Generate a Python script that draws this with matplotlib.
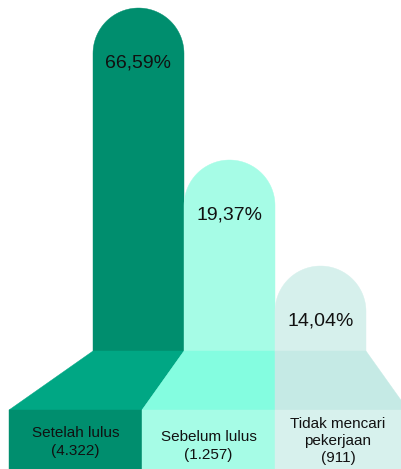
import numpy as np
import matplotlib.pyplot as plt
from matplotlib.patches import Rectangle, Polygon

plt.rcParams['font.family'] = ['Liberation Sans', 'DejaVu Sans']

# data
labels = ['Setelah lulus\n(4.322)', 'Sebelum lulus\n(1.257)', 'Tidak mencari\npekerjaan\n(911)']
percents = ['66,59%', '19,37%', '14,04%']
bar_heights = [343, 191, 85]   # drawn height of each pill (not proportional in the original)

bar_colors = ['#008e6e', '#a6fce6', '#d6f0ec']
trap_colors = ['#00a784', '#84fde0', '#c5eae5']
strip_colors = ['#008e6e', '#a6fce6', '#d7f1ed']

# layout (pixel units, y up)
W, H = 401, 469
bar_x0, bar_w = 93, 91
strip_h, trap_h = 59, 59
base = strip_h + trap_h
bottom_x = [9, 142, 275, 408]
label_y = [27, 23, 28]

fig = plt.figure(figsize=(W / 100, H / 100), dpi=100)
ax = fig.add_axes([0, 0, 1, 1])
ax.set_xlim(0, W)
ax.set_ylim(0, H)
ax.axis('off')

r = bar_w / 2
t = np.linspace(0, np.pi, 60)
for i in range(len(labels)):
    x = bar_x0 + i * bar_w
    h = bar_heights[i]
    c = bar_colors[i]
    # pill shaped bar as one polygon
    cy = base + h - r
    arc = np.column_stack([x + r + r * np.cos(t), cy + r * np.sin(t)])
    pts = np.vstack([[x + bar_w, base - 0.5], arc, [x, base - 0.5]])
    ax.add_patch(Polygon(pts, closed=True, facecolor=c, edgecolor=c, lw=0.3))
    ax.text(x + r, base + h - 55, percents[i], ha='center', va='center', fontsize=14, color='#111111')

    # trapezoid connecting bar to label strip
    tc = trap_colors[i]
    ax.add_patch(Polygon([(bottom_x[i], strip_h), (bottom_x[i + 1], strip_h),
                          (x + bar_w, base), (x, base)],
                         closed=True, facecolor=tc, edgecolor=tc, lw=0.3))

    # label strip
    sc = strip_colors[i]
    ax.add_patch(Rectangle((bottom_x[i], 0), bottom_x[i + 1] - bottom_x[i], strip_h,
                           facecolor=sc, edgecolor=sc, lw=0.3))
    cx = (bottom_x[i] + min(bottom_x[i + 1], W)) / 2
    ax.text(cx, label_y[i], labels[i], ha='center', va='center', fontsize=11,
            color='#111111', linespacing=1.3)

fig.savefig('out.png', dpi=100)
